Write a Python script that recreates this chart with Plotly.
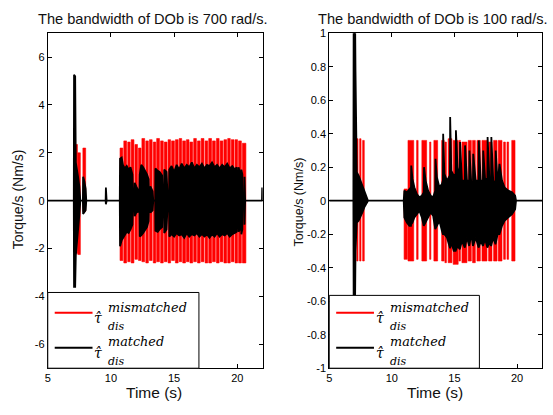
import plotly.graph_objects as go

W, H = 553, 415

# ---------------- DATA ----------------
titles = ["The bandwidth of DOb is 700 rad/s.", "The bandwidth of DOb is 100 rad/s."]
x_ticks = [5, 10, 15, 20]
x_ticktext = ["5", "10", "15", "20"]
L_y_ticks = [-6, -4, -2, 0, 2, 4, 6]
L_y_ticktext = ["-6", "-4", "-2", "0", "2", "4", "6"]
R_y_ticks = [-1, -0.8, -0.6, -0.4, -0.2, 0, 0.2, 0.4, 0.6, 0.8, 1]
R_y_ticktext = ["-1", "-0.8", "-0.6", "-0.4", "-0.2", "0", "0.2", "0.4", "0.6", "0.8", "1"]
x_range = [5, 22]
L_y_range = [-7, 7]
R_y_range = [-1, 1]

# mismatched (red) bursts: start, end, upper, lower
L_red_t0 = [7.18, 7.38, 7.78, 10.72, 11.02, 11.33, 11.6, 11.9, 12.18, 12.45, 12.76, 13.05, 13.35, 13.62,
            13.93, 14.22, 14.52, 14.8, 15.1, 15.4, 15.68, 15.97, 16.25, 16.55, 16.85, 17.14, 17.45,
            17.74, 18.04, 18.35, 18.64, 18.94, 19.24, 19.52, 19.82, 20.1, 20.4]
L_red_t1 = [7.35, 7.58, 8.0, 10.94, 11.24, 11.52, 11.82, 12.1, 12.38, 12.67, 12.96, 13.26, 13.55, 13.84,
            14.14, 14.44, 14.72, 15.02, 15.32, 15.6, 15.9, 16.18, 16.47, 16.76, 17.06, 17.36, 17.66,
            17.96, 18.26, 18.56, 18.86, 19.16, 19.44, 19.74, 20.02, 20.32, 20.68]
L_red_hi = [2.35, 2.0, 2.2, 2.2, 2.5, 2.45, 2.55, 2.35, 2.2, 2.6, 2.5, 2.55, 2.45, 2.6,
            2.5, 2.45, 2.55, 2.5, 2.55, 2.6, 2.5, 2.55, 2.45, 2.6, 2.5, 2.6, 2.5,
            2.6, 2.5, 2.6, 2.5, 2.55, 2.6, 2.55, 2.55, 2.5, 2.4]
L_red_lo = [-2.2, -2.25, -0.45, -2.5, -2.6, -2.55, -2.6, -2.45, -2.5, -2.55, -2.6, -2.5, -2.6, -2.55,
            -2.6, -2.55, -2.6, -2.5, -2.6, -2.55, -2.6, -2.55, -2.6, -2.55, -2.6, -2.55, -2.6,
            -2.6, -2.55, -2.6, -2.55, -2.6, -2.6, -2.55, -2.6, -2.6, -2.6]

# matched (black) envelope: time, upper, lower
L_blk_t = [5.0, 7.06, 7.08, 7.17, 7.22, 7.3, 7.4, 7.5, 7.58, 7.78, 7.8, 7.9, 8.0, 8.05, 9.58, 9.6, 9.64, 9.66,
           10.7, 10.72, 10.85, 10.95, 11.1, 11.25, 11.4, 11.55, 11.7, 11.75, 11.85, 11.88, 12.0, 12.15, 12.2,
           12.25, 12.28, 12.4, 12.55, 12.7, 12.85, 12.98, 13.02, 13.1, 13.12, 13.3, 13.35, 13.5, 13.52, 13.7,
           13.85, 14.05, 14.1, 14.2, 14.22, 14.4, 14.5, 14.6, 14.62, 14.8, 15.0, 15.2, 15.4, 15.6, 15.8,
           16.0, 16.2, 16.4, 16.6, 16.8, 17.0, 17.2, 17.4, 17.6, 17.8, 18.0, 18.2, 18.4, 18.6, 18.8, 19.0,
           19.2, 19.4, 19.6, 19.8, 19.95, 20.0, 20.08, 20.1, 20.2, 20.22, 20.3, 20.32, 20.4, 20.42, 20.55,
           20.57, 20.62, 21.95, 21.97, 22.0]
L_blk_hi = [0, 0, 5.26, 5.2, 1.6, 1.4, 1.0, 0.6, 0, 0, 1.0, 0.8, 0.5, 0, 0, 0.55, 0.3, 0,
            0, 1.75, 1.8, 1.5, 1.35, 1.45, 1.3, 1.4, 1.1, 0, 0, 0.75, 0.6, 0.45, 0,
            0, 1.1, 1.5, 1.4, 1.25, 1.1, 0.9, 0, 0, 0.6, 0.4, 0, 0, 1.35, 1.25,
            1.2, 1.05, 0, 0, 1.3, 1.2, 0, 0, 1.3, 1.45, 1.2, 1.5, 1.3, 1.55, 1.35,
            1.5, 1.4, 1.6, 1.35, 1.5, 1.4, 1.55, 1.35, 1.5, 1.45, 1.6, 1.4, 1.5, 1.35, 1.5, 1.4,
            1.55, 1.35, 1.45, 1.3, 1.4, 0, 0, 1.4, 1.2, 0, 0, 1.3, 1.1, 0, 0,
            1.0, 0, 0, 0.55, 0.4]
L_blk_lo = [0, 0, -3.6, -3.6, -2.3, -1.6, -1.2, -0.6, 0, 0, -0.55, -0.5, -0.4, 0, 0, -0.15, -0.1, 0,
            0, -1.9, -1.65, -1.6, -1.45, -1.3, -1.35, -1.2, -1.0, 0, 0, -0.65, -0.5, -0.45, 0,
            0, -1.5, -1.45, -1.35, -1.25, -1.1, -0.85, 0, 0, -0.5, -0.4, 0, 0, -1.25, -1.3,
            -1.2, -1.1, 0, 0, -1.35, -1.2, 0, 0, -1.5, -1.4, -1.5, -1.35, -1.45, -1.4, -1.55,
            -1.35, -1.5, -1.4, -1.45, -1.35, -1.5, -1.4, -1.5, -1.4, -1.55, -1.4, -1.5, -1.35, -1.5, -1.4, -1.45,
            -1.35, -1.5, -1.4, -1.35, -1.3, 0, 0, -1.3, -1.2, 0, 0, -1.4, -1.2, 0, 0,
            -1.0, 0, 0, 0, 0]

R_red_t0 = [7.2, 7.43, 7.67, 10.98, 11.29, 11.98, 12.4, 13.02, 13.36, 13.98, 14.24, 14.5, 14.9, 15.36,
            15.6, 16.1, 16.45, 16.8, 17.2, 17.73, 18.13, 18.5, 18.93, 19.2, 19.58]
R_red_t1 = [7.3, 7.54, 7.8, 11.24, 11.75, 12.1, 12.78, 13.12, 13.66, 14.18, 14.36, 14.8, 15.3, 15.48,
            16.0, 16.35, 16.67, 17.07, 17.6, 18.0, 18.4, 18.8, 19.07, 19.33, 19.84]
R_red_hi = [0.37, 0.37, 0.36, 0.07, 0.36, 0.36, 0.36, 0.35, 0.36, 0.36, 0.35, 0.37, 0.36, 0.36,
            0.35, 0.36, 0.36, 0.36, 0.36, 0.35, 0.36, 0.36, 0.35, 0.35, 0.36]
R_red_lo = [-0.36, -0.36, -0.36, -0.35, -0.36, -0.35, -0.36, -0.35, -0.36, -0.36, -0.37, -0.37, -0.38, -0.36,
            -0.37, -0.36, -0.37, -0.36, -0.36, -0.36, -0.36, -0.36, -0.35, -0.35, -0.36]

R_blk_t = [5.0, 6.93, 6.95, 7.07, 7.1, 7.14, 7.2, 7.35, 7.5, 7.65, 7.8, 7.95, 8.1,
           10.95, 11.0, 11.2, 11.4, 11.53, 11.55, 11.65, 11.8, 12.0, 12.2, 12.4, 12.55, 12.57, 12.7, 12.9,
           13.1, 13.3, 13.47, 13.49, 13.6, 13.8, 14.0, 14.08, 14.1, 14.2, 14.4, 14.64, 14.66, 14.75, 14.95,
           15.1, 15.12, 15.25, 15.43, 15.45, 15.6, 15.83, 15.85, 16.0, 16.18, 16.2, 16.35, 16.48, 16.5,
           16.7, 16.93, 16.95, 17.1, 17.28, 17.3, 17.45, 17.63, 17.65, 17.8, 17.93, 17.95, 18.1, 18.28,
           18.3, 18.45, 18.6, 18.8, 19.0, 19.3, 19.6, 19.85, 19.92, 22.0]
R_blk_hi = [0, 0, 1.05, 1.05, 0.77, 0.3, 0.17, 0.15, 0.12, 0.08, 0.05, 0.03, 0,
            0, 0.06, 0.05, 0.07, 0.08, 0.21, 0.13, 0.08, 0.04, 0.02, 0.03, 0.05, 0.2, 0.12, 0.06,
            0.03, 0.02, 0.06, 0.25, 0.14, 0.08, 0.1, 0.12, 0.4, 0.16, 0.12, 0.15, 0.5, 0.18, 0.15,
            0.16, 0.42, 0.2, 0.14, 0.35, 0.12, 0.12, 0.33, 0.12, 0.12, 0.3, 0.1, 0.1, 0.28,
            0.12, 0.12, 0.36, 0.12, 0.12, 0.3, 0.13, 0.13, 0.38, 0.12, 0.12, 0.38, 0.12, 0.1,
            0.3, 0.1, 0.22, 0.12, 0.08, 0.06, 0.05, 0.03, 0, 0]
R_blk_lo = [0, 0, -0.56, -0.56, -0.3, -0.2, -0.13, -0.12, -0.1, -0.07, -0.04, -0.02, 0,
            0, -0.1, -0.13, -0.15, -0.15, -0.14, -0.13, -0.1, -0.08, -0.06, -0.1, -0.15, -0.15, -0.13, -0.1,
            -0.07, -0.09, -0.17, -0.17, -0.15, -0.12, -0.18, -0.2, -0.2, -0.2, -0.22, -0.28, -0.28, -0.25, -0.3,
            -0.3, -0.3, -0.27, -0.29, -0.29, -0.24, -0.28, -0.28, -0.22, -0.27, -0.27, -0.2, -0.27, -0.27,
            -0.22, -0.28, -0.28, -0.24, -0.27, -0.27, -0.23, -0.28, -0.28, -0.25, -0.27, -0.27, -0.22, -0.26,
            -0.26, -0.2, -0.2, -0.15, -0.12, -0.1, -0.08, -0.05, 0, 0]

legend_sup = ["mismatched", "matched"]
legend_sub = "dis"
series_colors = ["#ff0000", "#000000"]


# ---------------- HELPERS ----------------
def strips(t0, t1, hi, lo):
    xs, ys = [], []
    for a, b, h, l in zip(t0, t1, hi, lo):
        xs += [a, a, b, b, a, None]
        ys += [l, h, h, l, l, None]
    return xs, ys


def envelope(t, hi, lo):
    xs = list(t) + list(t)[::-1] + [t[0]]
    ys = list(hi) + list(lo)[::-1] + [hi[0]]
    return xs, ys


def px(xp):
    return xp / W


def py(yp):
    return 1 - yp / H


fig = go.Figure()

panels = [
    (L_red_t0, L_red_t1, L_red_hi, L_red_lo, L_blk_t, L_blk_hi, L_blk_lo, "x", "y"),
    (R_red_t0, R_red_t1, R_red_hi, R_red_lo, R_blk_t, R_blk_hi, R_blk_lo, "x2", "y2"),
]
for rt0, rt1, rhi, rlo, bt, bhi, blo, xa, ya in panels:
    xs, ys = strips(rt0, rt1, rhi, rlo)
    fig.add_trace(go.Scatter(x=xs, y=ys, mode="lines", fill="toself", fillcolor=series_colors[0],
                             line=dict(color=series_colors[0], width=0.6), xaxis=xa, yaxis=ya,
                             showlegend=False, hoverinfo="skip"))
    xs, ys = envelope(bt, bhi, blo)
    fig.add_trace(go.Scatter(x=xs, y=ys, mode="lines", fill="toself", fillcolor=series_colors[1],
                             line=dict(color=series_colors[1], width=1.8), xaxis=xa, yaxis=ya,
                             showlegend=False, hoverinfo="skip"))

# axes geometry (pixels)
L_x0, L_x1 = 45, 261
R_x0, R_x1 = 328, 542
Y_top, Y_bot = 28, 373

ax_common = dict(showline=True, linecolor="black", linewidth=1, mirror="ticks", ticks="inside",
                 ticklen=4, tickcolor="black", showgrid=False, zeroline=False,
                 tickfont=dict(family="Liberation Sans, Arial", size=11, color="black"))

fig.update_layout(
    width=W, height=H, margin=dict(l=0, r=0, t=0, b=0),
    paper_bgcolor="white", plot_bgcolor="white", showlegend=False,
    xaxis=dict(domain=[px(L_x0), px(L_x1)], range=x_range, tickvals=x_ticks, ticktext=x_ticktext,
               anchor="y", **ax_common),
    yaxis=dict(domain=[py(Y_bot), py(Y_top)], range=L_y_range, tickvals=L_y_ticks,
               ticktext=L_y_ticktext, anchor="x", **ax_common),
    xaxis2=dict(domain=[px(R_x0), px(R_x1)], range=x_range, tickvals=x_ticks, ticktext=x_ticktext,
                anchor="y2", **ax_common),
    yaxis2=dict(domain=[py(Y_bot), py(Y_top)], range=R_y_range, tickvals=R_y_ticks,
                ticktext=R_y_ticktext, anchor="x2", **ax_common),
)

ann = []
shapes = []
txtfont = dict(family="Liberation Sans, Arial", color="#111")

# titles
for title, cx in zip(titles, [151, 432]):
    ann.append(dict(x=px(cx), y=py(13), xref="paper", yref="paper", text=title, showarrow=False,
                    xanchor="center", yanchor="middle", font=dict(size=14.6, **txtfont)))
# x titles
for cx in [152, 434]:
    ann.append(dict(x=px(cx), y=py(398), xref="paper", yref="paper", text="Time (s)", showarrow=False,
                    xanchor="center", yanchor="middle", font=dict(size=15.5, **txtfont)))
# y titles
ann.append(dict(x=px(15), y=py(199), xref="paper", yref="paper", text="Torque/s (Nm/s)", showarrow=False,
                textangle=-90, xanchor="center", yanchor="middle", font=dict(size=14, **txtfont)))
ann.append(dict(x=px(298), y=py(202), xref="paper", yref="paper", text="Torque/s (Nm/s)", showarrow=False,
                textangle=-90, xanchor="center", yanchor="middle", font=dict(size=12.5, **txtfont)))

# manual legends
mathfont = "DejaVu Serif, Liberation Serif, serif"
for (bx0, bx1, by0), lx in [((45, 197, 295), 52), ((328, 479, 298), 335)]:
    shapes.append(dict(type="rect", xref="paper", yref="paper", x0=px(bx0), x1=px(bx1),
                       y0=py(Y_bot), y1=py(by0), fillcolor="white",
                       line=dict(color="black", width=1), layer="above"))
    for i, (sup, col) in enumerate(zip(legend_sup, series_colors)):
        yl = 316 + i * 36
        shapes.append(dict(type="line", xref="paper", yref="paper", x0=px(lx), x1=px(lx + 38),
                           y0=py(yl), y1=py(yl), line=dict(color=col, width=2), layer="above"))
        tx = lx + 46
        ann.append(dict(x=px(tx + 4), y=py(yl + 5), xref="paper", yref="paper", text="<i>τ\u0302</i>",
                        showarrow=False, xanchor="right", yanchor="middle",
                        font=dict(family=mathfont, size=14, color="black")))
        ann.append(dict(x=px(tx + 6), y=py(yl - 6), xref="paper", yref="paper", text="<i>" + sup + "</i>",
                        showarrow=False, xanchor="left", yanchor="middle",
                        font=dict(family=mathfont, size=12.8, color="black")))
        ann.append(dict(x=px(tx + 6), y=py(yl + 14), xref="paper", yref="paper",
                        text="<i>" + legend_sub + "</i>", showarrow=False, xanchor="left",
                        yanchor="middle", font=dict(family=mathfont, size=11, color="black")))

fig.update_layout(annotations=ann, shapes=shapes)
fig.write_html("out.html")
